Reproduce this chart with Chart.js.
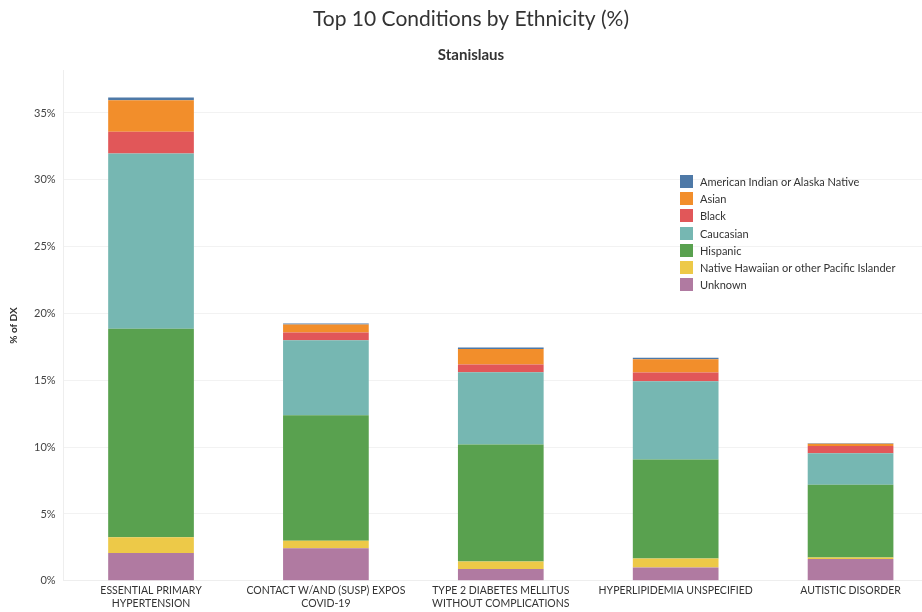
<!DOCTYPE html>
<html>
<head>
<meta charset="utf-8">
<script src="https://cdn.jsdelivr.net/npm/chart.js@4"></script>
<style>
html, body { margin: 0; padding: 0; background: #fff; overflow: hidden; }
#wrap { position: relative; width: 940px; height: 612px; }
#legenda { position: absolute; left: 680px; top: 173px; font: 11px Lato, sans-serif; color: #333; }
#legenda div { height: 17.2px; display: flex; align-items: center; }
#legenda span { display: inline-block; width: 13px; height: 13px; margin-right: 7px; }
</style>
</head>
<body>
<div id="wrap"><canvas id="grafico"></canvas><div id="legenda"></div></div>
<script>
// dados
const condicoes = [
    ['ESSENTIAL PRIMARY', 'HYPERTENSION'],
    ['CONTACT W/AND (SUSP) EXPOS', 'COVID-19'],
    ['TYPE 2 DIABETES MELLITUS', 'WITHOUT COMPLICATIONS'],
    'HYPERLIPIDEMIA UNSPECIFIED',
    'AUTISTIC DISORDER'
];
const unknown    = [2.08, 2.43, 0.88, 1.00, 1.63];
const nativeHaw  = [1.17, 0.57, 0.57, 0.67, 0.12];
const hispanic   = [15.60, 9.38, 8.75, 7.41, 5.43];
const caucasian  = [13.12, 5.62, 5.40, 5.85, 2.37];
const black      = [1.63, 0.58, 0.58, 0.65, 0.53];
const asian      = [2.35, 0.60, 1.17, 1.00, 0.17];
const amIndian   = [0.20, 0.07, 0.10, 0.10, 0.05];
const ticksY = [0, 5, 10, 15, 20, 25, 30, 35];

// de baixo pra cima
const series = [
    { label: 'Unknown', data: unknown, backgroundColor: '#b07aa1' },
    { label: 'Native Hawaiian or other Pacific Islander', data: nativeHaw, backgroundColor: '#edc948' },
    { label: 'Hispanic', data: hispanic, backgroundColor: '#59a14f' },
    { label: 'Caucasian', data: caucasian, backgroundColor: '#76b7b2' },
    { label: 'Black', data: black, backgroundColor: '#e15759' },
    { label: 'Asian', data: asian, backgroundColor: '#f28e2b' },
    { label: 'American Indian or Alaska Native', data: amIndian, backgroundColor: '#4e79a7' }
];

// grafico
const fonte = 'Lato, "Open Sans", sans-serif';

const grafico = new Chart(document.getElementById('grafico'), {
    type: 'bar',
    data: {
        labels: condicoes,
        datasets: series.map(s => ({
            ...s,
            barPercentage: 0.49,
            categoryPercentage: 1
        }))
    },
    options: {
        responsive: true,
        maintainAspectRatio: false,
        animation: false,
        layout: { padding: { left: 4, right: 2, bottom: -2 } },
        plugins: {
            legend: { display: false },
            tooltip: { enabled: false },
            title: {
                display: true,
                text: 'Top 10 Conditions by Ethnicity (%)',
                color: '#333',
                font: { family: fonte, size: 21, weight: 'normal' },
                padding: { top: 7, bottom: 14 }
            },
            subtitle: {
                display: true,
                text: 'Stanislaus',
                color: '#333',
                font: { family: fonte, size: 15, weight: 'bold' },
                padding: { bottom: 6 }
            }
        },
        scales: {
            x: {
                stacked: true,
                grid: { display: false, drawTicks: false },
                border: { color: '#eeeeee' },
                ticks: {
                    color: '#333',
                    font: { family: fonte, size: 10.5 },
                    maxRotation: 0,
                    autoSkip: false,
                    padding: 4
                }
            },
            y: {
                stacked: true,
                min: 0,
                max: 38.2,
                afterBuildTicks: scale => {
                    scale.ticks = ticksY.map(v => ({ value: v }));
                },
                grid: { color: '#f2f2f2', drawTicks: false },
                border: { color: '#eeeeee' },
                ticks: {
                    color: '#444',
                    font: { family: fonte, size: 11 },
                    padding: 8,
                    callback: v => v + '%'
                },
                title: {
                    display: true,
                    text: '% of DX',
                    color: '#333',
                    font: { family: fonte, size: 10, weight: 'bold' },
                    padding: { bottom: 6 }
                }
            }
        }
    }
});

// legenda (de cima pra baixo)
const legenda = document.getElementById('legenda');
series.slice().reverse().forEach(s => {
    const item = document.createElement('div');
    item.innerHTML = '<span style="background:' + s.backgroundColor + '"></span>' + s.label;
    legenda.appendChild(item);
});
</script>
</body>
</html>
